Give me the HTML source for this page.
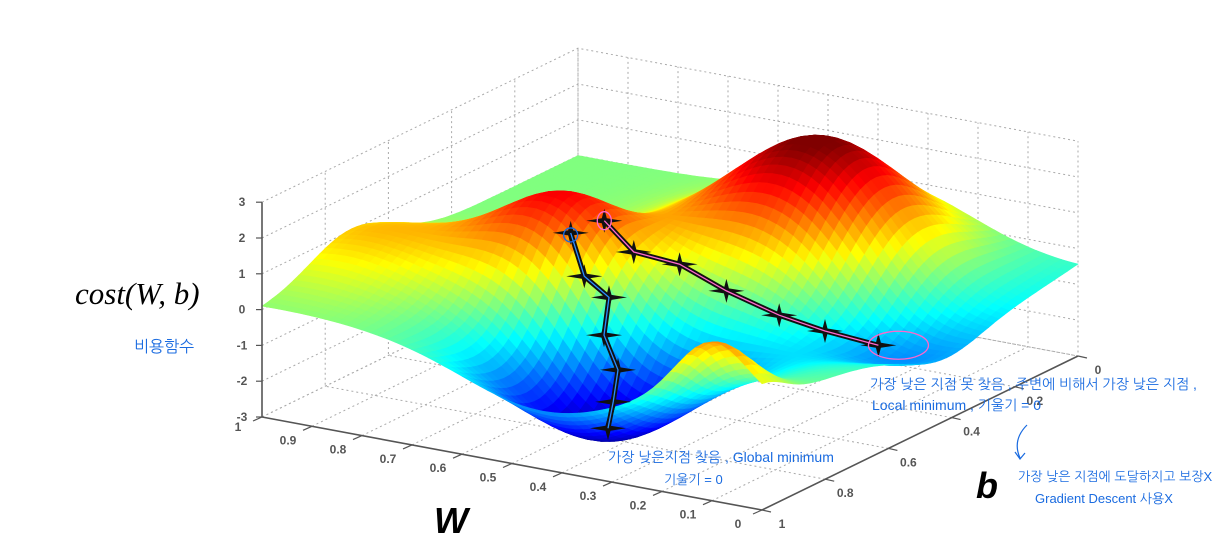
<!DOCTYPE html>
<html><head><meta charset="utf-8"><style>
html,body{margin:0;padding:0;background:#fff;width:1218px;height:555px;overflow:hidden}
svg{display:block}
.hand{font-family:"Liberation Sans","NanumGothic","Noto Sans CJK KR",sans-serif;fill:#1a6be0}
.tick{font-family:"Liberation Sans",sans-serif;font-size:12px;fill:#555;font-weight:bold}
</style></head><body>
<svg id="chart" width="1218" height="555" viewBox="0 0 1218 555" xmlns="http://www.w3.org/2000/svg">
<g id="walls"></g>
<g id="surface"></g>
<g id="axes"></g>
<g id="paths"></g>
<text x="75" y="304" font-family="Liberation Serif,serif" font-style="italic" font-size="31">cost(W, b)</text>
<text x="134" y="352" class="hand" font-size="16">비용함수</text>
<text x="434" y="533" font-family="Liberation Sans,sans-serif" font-weight="bold" font-style="italic" font-size="36">W</text>
<text x="976" y="498" font-family="Liberation Sans,sans-serif" font-weight="bold" font-style="italic" font-size="36">b</text>
<text x="608" y="462" class="hand" font-size="14">가장 낮은지점 찾음 , Global minimum</text>
<text x="664" y="484" class="hand" font-size="13">기울기 = 0</text>
<text x="870" y="389" class="hand" font-size="14">가장 낮은 지점 못 찾음 , 주변에 비해서 가장 낮은 지점 ,</text>
<text x="872" y="410" class="hand" font-size="14">Local minimum , 기울기 = 0</text>
<path d="M1027 425 Q1012 440 1020 458 M1015 452 L1020 459 L1025 453" fill="none" stroke="#1a6be0" stroke-width="1.2"/>
<text x="1018" y="481" class="hand" font-size="13">가장 낮은 지점에 도달하지고 보장X</text>
<text x="1035" y="503" class="hand" font-size="13">Gradient Descent 사용X</text>
</svg>
<script>
// surface bumps (w, b, amplitude, width)
const bumpW=[0.44,0.65,0.36,0.13,0.1,0.95,0.05];
const bumpB=[0.8,0.6,0.24,0.43,1.0,0.72,0.3];
const bumpAmp=[-3.0,2.7,3.6,-0.9,1.6,1.1,-1.1];
const bumpSig=[0.16,0.12,0.16,0.11,0.07,0.13,0.25];
const zTicks=[3,2,1,0,-1,-2,-3];
const wTicks=[1,0.9,0.8,0.7,0.6,0.5,0.4,0.3,0.2,0.1,0];
const bTicks=[0,0.2,0.4,0.6,0.8,1];
// descent paths
const path1W=[0.547,0.526,0.502,0.493,0.465,0.462,0.466];
const path1B=[0.74,0.73,0.69,0.72,0.72,0.74,0.75];
const path1Z=[2.2,1.0,0.3,-0.6,-1.5,-2.3,-3.0];
const path2W=[0.524,0.484,0.424,0.362,0.288,0.228,0.14];
const path2B=[0.67,0.64,0.59,0.54,0.49,0.44,0.41];
const path2Z=[2.3,1.4,1.0,0.2,-0.5,-1.0,-1.3];

const NS='http://www.w3.org/2000/svg';
function P(w,b,z){const u=1-b;return [762-500*w+316*u, 510-93*w-154*u-35.8*(z+3)];}
function f(w,b){let z=0;for(let i=0;i<bumpW.length;i++){const d=(w-bumpW[i])**2+(b-bumpB[i])**2;z+=bumpAmp[i]*Math.exp(-d/(2*bumpSig[i]**2));}return z;}
function jet(z){const t=Math.max(0,Math.min(1,(z+3)/6));const c=v=>Math.round(255*Math.max(0,Math.min(1,v)));
return `rgb(${c(1.5-Math.abs(4*t-3))},${c(1.5-Math.abs(4*t-2))},${c(1.5-Math.abs(4*t-1))})`;}
function mk(tag,attrs,parent){const e=document.createElementNS(NS,tag);for(const k in attrs)e.setAttribute(k,attrs[k]);parent.appendChild(e);return e;}
const pt=a=>a.map(p=>p[0].toFixed(1)+','+p[1].toFixed(1)).join(' ');

// walls
const walls=document.getElementById('walls');
const dash={stroke:'#aaa','stroke-width':1,'stroke-dasharray':'2,3',fill:'none'};
for(const z of zTicks){
 let l=mk('polyline',Object.assign({points:pt([P(1,1,z),P(1,0,z),P(0,0,z)])},dash),walls);
 
 
}
for(const w of wTicks){
 let l=mk('polyline',Object.assign({points:pt([P(w,1,-3),P(w,0,-3),P(w,0,3)])},dash),walls);
 
 
}
for(const b of bTicks){
 let l=mk('polyline',Object.assign({points:pt([P(0,b,-3),P(1,b,-3),P(1,b,3)])},dash),walls);
 
 
}

// surface
const surf=document.getElementById('surface');
const N=60;const quads=[];
for(let i=0;i<N;i++)for(let j=0;j<N;j++){
 const w0=i/N,w1=(i+1)/N,b0=j/N,b1=(j+1)/N;
 const zs=[f(w0,b0),f(w1,b0),f(w1,b1),f(w0,b1)];
 const zm=(zs[0]+zs[1]+zs[2]+zs[3])/4;
 quads.push({key:(1-(w0+w1)/2)+(b0+b1)/2,pts:[P(w0,b0,zs[0]),P(w1,b0,zs[1]),P(w1,b1,zs[2]),P(w0,b1,zs[3])],z:zm});
}
quads.sort((a,b)=>a.key-b.key);
for(const q of quads){const col=jet(q.z);
 const e=mk('polygon',{points:pt(q.pts),fill:col,stroke:col,'stroke-width':0.6},surf);
 
 
}

// axes
const ax=document.getElementById('axes');
const axl={stroke:'#555','stroke-width':1.6,fill:'none'};
let a=mk('line',Object.assign({x1:P(1,1,-3)[0],y1:P(1,1,-3)[1],x2:P(1,1,3)[0],y2:P(1,1,3)[1]},axl),ax);

a=mk('line',Object.assign({x1:P(1,1,-3)[0],y1:P(1,1,-3)[1],x2:P(0,1,-3)[0],y2:P(0,1,-3)[1]},axl),ax);

a=mk('line',Object.assign({x1:P(0,1,-3)[0],y1:P(0,1,-3)[1],x2:P(0,0,-3)[0],y2:P(0,0,-3)[1]},axl),ax);

for(const z of zTicks){const p=P(1,1,z);
 mk('line',{x1:p[0]-6,y1:p[1],x2:p[0],y2:p[1],stroke:'#555','stroke-width':1.2},ax);
 const t=mk('text',{x:p[0]-20,y:p[1]+4,class:'tick','text-anchor':'middle'},ax);t.textContent=z;
 }
for(const w of wTicks){const p=P(w,1,-3);
 mk('line',{x1:p[0],y1:p[1],x2:p[0]-9,y2:p[1]+4,stroke:'#555','stroke-width':1.2},ax);
 const t=mk('text',{x:p[0]-24,y:p[1]+(w==1?14:18),class:'tick','text-anchor':'middle'},ax);t.textContent=w;
 }
for(const b of bTicks){const p=P(0,b,-3);
 mk('line',{x1:p[0],y1:p[1],x2:p[0]+9,y2:p[1]+2,stroke:'#555','stroke-width':1.2},ax);
 const t=mk('text',{x:p[0]+20,y:p[1]+18,class:'tick','text-anchor':'middle'},ax);t.textContent=b;
 }

// descent paths
const pg=document.getElementById('paths');
function star(p,parent){const s=12,k=2.5;
 const e=mk('polygon',{points:pt([[p[0],p[1]-s],[p[0]+k,p[1]-k],[p[0]+s*1.5,p[1]],[p[0]+k,p[1]+k],[p[0],p[1]+s],[p[0]-k,p[1]+k],[p[0]-s*1.5,p[1]],[p[0]-k,p[1]-k]]),fill:'#111'},parent);
 }
function drawPath(W,B,Z,col,name){
 const ps=W.map((w,i)=>P(w,B[i],Z[i]));
 let l=mk('polyline',{points:pt(ps),fill:'none',stroke:'#111','stroke-width':5,'stroke-linejoin':'round'},pg);
 
 ps.forEach(p=>star(p,pg));
 let h=mk('polyline',{points:pt(ps),fill:'none',stroke:col,'stroke-width':1.3},pg);
 
 return ps;}
const p1=drawPath(path1W,path1B,path1Z,'#2a8cff','global-descent-path');
const p2=drawPath(path2W,path2B,path2Z,'#ff66cc','local-descent-path');
let c=mk('ellipse',{cx:p1[0][0],cy:p1[0][1]+2,rx:7,ry:7,fill:'none',stroke:'#1a6be0','stroke-width':1.3},pg);

c=mk('ellipse',{cx:p2[0][0],cy:p2[0][1],rx:7,ry:9,fill:'none',stroke:'#ff66cc','stroke-width':1.3},pg);

const e6=p2[p2.length-1];
c=mk('ellipse',{cx:e6[0]+20,cy:e6[1],rx:30,ry:14,fill:'none',stroke:'#ff66cc','stroke-width':1.3},pg);

</script>
</body></html>
